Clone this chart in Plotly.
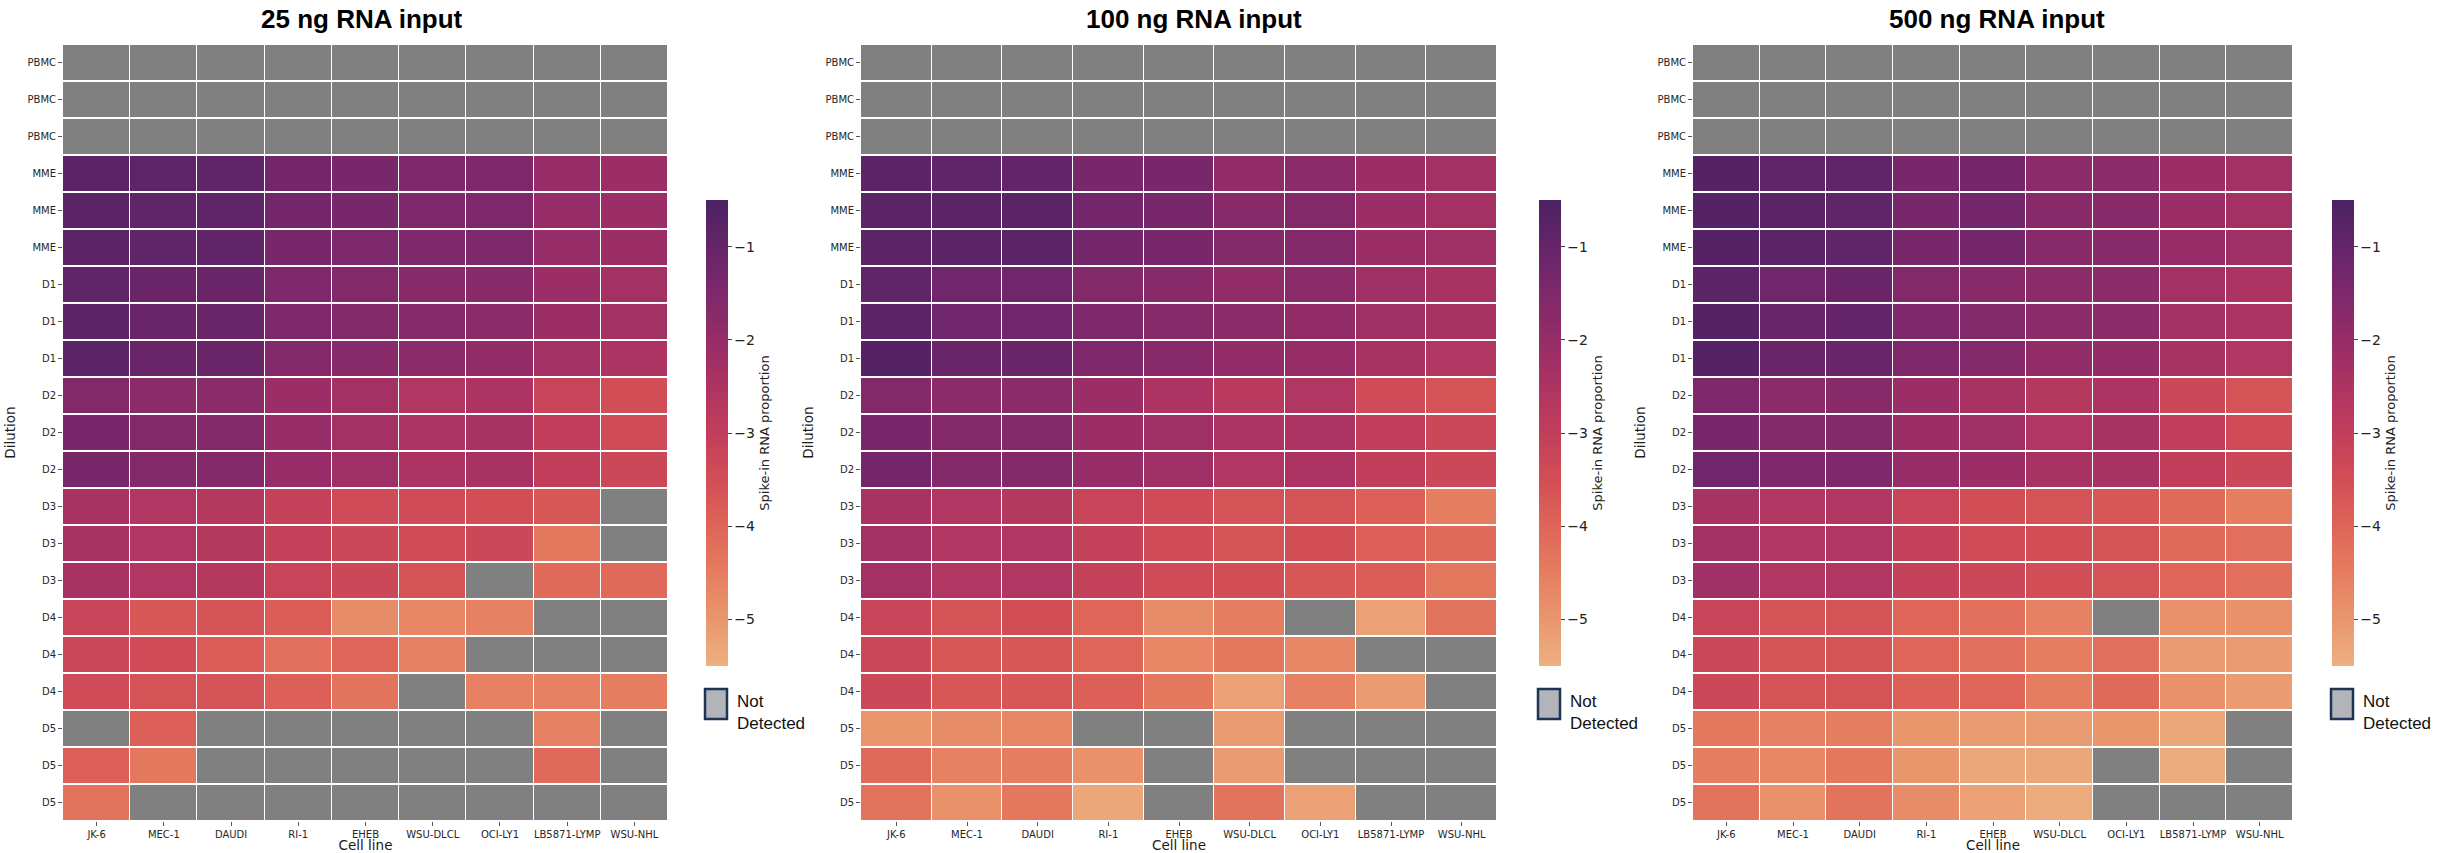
import numpy as np
import plotly.graph_objects as go

# ---------------------------------------------------------------- data
cell_lines = ["JK-6", "MEC-1", "DAUDI", "RI-1", "EHEB", "WSU-DLCL",
              "OCI-LY1", "LB5871-LYMP", "WSU-NHL"]
dilutions = (["PBMC"] * 3 + ["MME"] * 3 + ["D1"] * 3 + ["D2"] * 3 +
             ["D3"] * 3 + ["D4"] * 3 + ["D5"] * 3)
panel_titles = ["25 ng RNA input", "100 ng RNA input", "500 ng RNA input"]
n = None  # not detected

# log10 spike-in RNA proportion, rows follow `dilutions`, columns `cell_lines`
input_25ng = [
    [n, n, n, n, n, n, n, n, n],
    [n, n, n, n, n, n, n, n, n],
    [n, n, n, n, n, n, n, n, n],
    [-0.8, -0.85, -0.9, -1.3, -1.4, -1.5, -1.5, -2.0, -2.1],
    [-0.8, -0.9, -0.9, -1.3, -1.4, -1.5, -1.5, -2.0, -2.1],
    [-0.8, -0.9, -0.95, -1.35, -1.45, -1.5, -1.45, -2.0, -2.1],
    [-0.9, -1.1, -1.1, -1.5, -1.6, -1.7, -1.7, -2.1, -2.3],
    [-0.8, -1.1, -1.1, -1.5, -1.6, -1.7, -1.8, -2.1, -2.3],
    [-0.8, -1.1, -1.1, -1.6, -1.7, -1.8, -1.9, -2.3, -2.5],
    [-1.6, -1.8, -1.8, -2.1, -2.3, -2.6, -2.5, -3.2, -3.5],
    [-1.4, -1.6, -1.6, -2.0, -2.3, -2.5, -2.4, -3.0, -3.4],
    [-1.4, -1.6, -1.6, -2.0, -2.2, -2.5, -2.4, -3.0, -3.3],
    [-2.4, -2.6, -2.7, -3.1, -3.4, -3.4, -3.5, -3.7, n],
    [-2.4, -2.6, -2.7, -3.1, -3.3, -3.4, -3.3, -4.4, n],
    [-2.4, -2.6, -2.7, -3.2, -3.3, -3.6, n, -4.1, -4.1],
    [-3.2, -3.7, -3.6, -3.8, -4.8, -4.7, -4.6, n, n],
    [-3.3, -3.4, -3.8, -4.2, -4.0, -4.6, n, n, n],
    [-3.4, -3.6, -3.6, -3.9, -4.3, n, -4.6, -4.6, -4.5],
    [n, -3.9, n, n, n, n, n, -4.6, n],
    [-3.9, -4.4, n, n, n, n, n, -4.1, n],
    [-4.3, n, n, n, n, n, n, n, n],
]

input_100ng = [
    [n, n, n, n, n, n, n, n, n],
    [n, n, n, n, n, n, n, n, n],
    [n, n, n, n, n, n, n, n, n],
    [-0.8, -0.9, -1.0, -1.4, -1.4, -1.9, -1.8, -2.1, -2.3],
    [-0.8, -0.8, -0.8, -1.3, -1.4, -1.7, -1.6, -2.1, -2.3],
    [-0.8, -0.8, -0.8, -1.3, -1.4, -1.6, -1.6, -2.1, -2.2],
    [-0.9, -1.2, -1.2, -1.6, -1.7, -1.9, -1.8, -2.2, -2.4],
    [-0.8, -1.2, -1.2, -1.5, -1.7, -1.8, -1.9, -2.2, -2.4],
    [-0.7, -1.1, -1.1, -1.5, -1.7, -1.9, -2.0, -2.4, -2.6],
    [-1.6, -1.8, -1.8, -2.1, -2.5, -2.8, -2.6, -3.4, -3.6],
    [-1.4, -1.6, -1.6, -2.1, -2.2, -2.5, -2.5, -3.0, -3.3],
    [-1.3, -1.6, -1.6, -2.0, -2.2, -2.6, -2.5, -3.0, -3.3],
    [-2.4, -2.6, -2.7, -3.2, -3.4, -3.6, -3.6, -3.9, -4.5],
    [-2.3, -2.6, -2.6, -3.1, -3.4, -3.6, -3.5, -3.9, -4.1],
    [-2.3, -2.6, -2.6, -3.1, -3.4, -3.5, -3.7, -3.8, -4.4],
    [-3.2, -3.6, -3.5, -4.0, -4.8, -4.5, n, -5.2, -4.3],
    [-3.3, -3.7, -3.7, -4.0, -4.7, -4.4, -4.7, n, n],
    [-3.3, -3.7, -3.7, -3.9, -4.4, -5.2, -4.6, -5.1, n],
    [-5.0, -4.8, -4.7, n, n, -5.1, n, n, n],
    [-4.1, -4.6, -4.5, -4.9, n, -5.1, n, n, n],
    [-4.3, -4.9, -4.4, -5.3, n, -4.3, -5.2, n, n],
]

input_500ng = [
    [n, n, n, n, n, n, n, n, n],
    [n, n, n, n, n, n, n, n, n],
    [n, n, n, n, n, n, n, n, n],
    [-0.7, -0.9, -0.9, -1.4, -1.3, -1.8, -1.8, -2.1, -2.3],
    [-0.7, -0.8, -0.9, -1.4, -1.3, -1.7, -1.7, -2.1, -2.3],
    [-0.7, -0.8, -0.9, -1.4, -1.3, -1.7, -1.7, -2.0, -2.2],
    [-0.8, -1.2, -1.1, -1.6, -1.7, -1.8, -1.8, -2.3, -2.5],
    [-0.7, -1.1, -1.0, -1.5, -1.6, -1.8, -1.8, -2.3, -2.5],
    [-0.7, -1.1, -1.1, -1.5, -1.6, -1.9, -1.9, -2.4, -2.6],
    [-1.5, -1.8, -1.7, -2.1, -2.4, -2.7, -2.5, -3.3, -3.6],
    [-1.4, -1.6, -1.6, -2.1, -2.2, -2.6, -2.4, -3.0, -3.4],
    [-1.2, -1.5, -1.5, -2.0, -2.1, -2.4, -2.4, -3.0, -3.3],
    [-2.4, -2.6, -2.6, -3.2, -3.5, -3.6, -3.7, -4.1, -4.5],
    [-2.3, -2.6, -2.6, -3.1, -3.4, -3.5, -3.6, -4.1, -4.2],
    [-2.2, -2.6, -2.6, -3.1, -3.3, -3.5, -3.6, -4.0, -4.2],
    [-3.2, -3.6, -3.6, -4.0, -4.2, -4.6, n, -4.9, -4.9],
    [-3.3, -3.6, -3.6, -4.0, -4.2, -4.5, -4.2, -5.1, -5.1],
    [-3.3, -3.6, -3.6, -3.9, -4.0, -4.5, -4.1, -4.9, -5.1],
    [-4.4, -4.6, -4.5, -5.0, -5.1, -5.1, -5.0, -5.3, n],
    [-4.5, -4.7, -4.4, -5.0, -5.3, -5.3, n, -5.4, n],
    [-4.3, -4.9, -4.3, -4.8, -5.2, -5.4, n, n, n],
]

panels_data = [input_25ng, input_100ng, input_500ng]
colorbar_ticks = [-1, -2, -3, -4, -5]

# ---------------------------------------------------------------- styling
W, H = 2451, 853


def fx(p):
    return p / W


def fy(p):
    return 1 - p / H


# seaborn "flare"-like sequential palette (light orange -> deep purple)
flare = [
    [0.0, "#EDB081"], [0.1, "#E9966D"], [0.2, "#E57D60"], [0.3, "#DE6558"],
    [0.4, "#D24E56"], [0.5, "#C13E5B"], [0.6, "#AD3462"], [0.7, "#962D68"],
    [0.8, "#7E286B"], [0.9, "#652469"], [1.0, "#4B2363"],
]
nd_grey = "#808080"
tick_font = dict(family="DejaVu Sans", size=10, color="#262626")
label_font = dict(family="DejaVu Sans", size=13.5, color="#1a1a1a")

heat_px = [(63, 668), (861, 1497), (1693, 2293)]
heat_top, heat_bottom = 44, 821
cbar_left = [706, 1539, 2332]
title_cx = [362, 1194, 1997]

fig = go.Figure()
xs = list(range(len(cell_lines)))
ys = list(range(len(dilutions)))

for i, data in enumerate(panels_data):
    k = "" if i == 0 else str(i + 1)
    z = np.array([[np.nan if v is None else v for v in row] for row in data])
    missing = np.where(np.isnan(z), 1.0, np.nan)

    # cells with no detection
    fig.add_trace(go.Heatmap(
        z=missing, x=xs, y=ys, xaxis="x" + k, yaxis="y" + k,
        colorscale=[[0, nd_grey], [1, nd_grey]], showscale=False,
        xgap=1, ygap=2, hoverinfo="skip",
    ))
    # detected spike-in proportions
    fig.add_trace(go.Heatmap(
        z=z, x=xs, y=ys, xaxis="x" + k, yaxis="y" + k,
        coloraxis="coloraxis" + k, xgap=1, ygap=2,
        customdata=np.array([[c for c in cell_lines]] * len(dilutions)),
        hovertemplate="%{customdata}<br>%{z:.2f}<extra></extra>",
    ))

    x0, x1 = heat_px[i]
    fig.layout["xaxis" + k] = dict(
        domain=[fx(x0), fx(x1)], anchor="y" + k, range=[-0.5, 8.5],
        tickvals=xs, ticktext=cell_lines, tickfont=tick_font,
        ticks="outside", ticklen=4, tickcolor="#555", showgrid=False,
        zeroline=False, showline=False,
        title=dict(text="Cell line", font=label_font, standoff=2),
    )
    fig.layout["yaxis" + k] = dict(
        domain=[fy(heat_bottom), fy(heat_top)], anchor="x" + k,
        range=[20.5, -0.5], tickvals=ys, ticktext=dilutions,
        tickfont=tick_font, ticks="outside", ticklen=4, tickcolor="#555",
        showgrid=False, zeroline=False, showline=False,
        title=dict(text="Dilution", font=label_font, standoff=8),
    )
    fig.layout["coloraxis" + k] = dict(
        colorscale=flare, cmin=-5.5, cmax=-0.5,
        colorbar=dict(
            x=fx(cbar_left[i]), xanchor="left", xpad=0,
            y=fy((200 + 666) / 2), yanchor="middle", ypad=0,
            len=466, lenmode="pixels", thickness=22, thicknessmode="pixels",
            outlinewidth=0, tickvals=colorbar_ticks,
            ticktext=["\u2212" + str(abs(t)) for t in colorbar_ticks],
            ticks="outside", ticklen=4, tickcolor="#444",
            tickfont=dict(family="DejaVu Sans", size=14, color="#222"),
            title=dict(text="Spike-in RNA proportion", side="right",
                       font=dict(family="DejaVu Sans", size=13,
                                 color="#222")),
        ),
    )

    # panel heading
    fig.add_annotation(
        text="<b>" + panel_titles[i] + "</b>", xref="paper", yref="paper",
        x=fx(title_cx[i]), y=fy(19), xanchor="center", yanchor="middle",
        showarrow=False,
        font=dict(family="Liberation Sans, Arial", size=26, color="#000"),
    )

    # "Not Detected" key
    bx = cbar_left[i] - 1
    fig.add_shape(
        type="rect", xref="paper", yref="paper",
        x0=fx(bx), x1=fx(bx + 22), y0=fy(719), y1=fy(689),
        fillcolor="#B3B3BA", line=dict(color="#1C3557", width=2.5),
    )
    fig.add_annotation(
        text="Not<br>Detected", xref="paper", yref="paper",
        x=fx(bx + 30), y=fy(712), xanchor="left", yanchor="middle",
        align="left", showarrow=False,
        font=dict(family="Liberation Sans, Arial", size=17, color="#111"),
    )

fig.update_layout(
    width=W, height=H, margin=dict(l=0, r=0, t=0, b=0),
    paper_bgcolor="white", plot_bgcolor="white", showlegend=False,
)

fig.write_html("out.html")
